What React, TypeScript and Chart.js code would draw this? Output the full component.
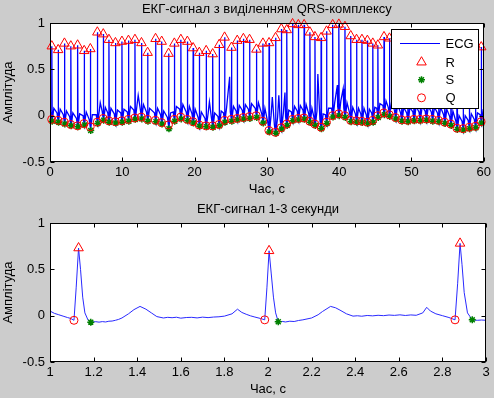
import React, { useEffect, useRef } from "react";
import { Chart, registerables } from "chart.js";

Chart.register(...registerables);

const FONT = "'Liberation Sans', Arial, Helvetica, sans-serif";

// ---------- upper plot: 60 s record, one entry per detected beat ----------
const beatTimes = [
  0.25, 1.13, 2.0, 2.88, 3.82, 4.73, 5.58, 6.55, 7.37, 8.15,
  9.05, 9.95, 10.85, 11.75, 12.65, 13.5, 14.6, 15.45, 16.4, 17.2,
  18.1, 19.0, 19.8, 20.65, 21.6, 22.5, 23.4, 24.15, 25.1, 25.9,
  26.75, 27.6, 28.55, 29.45, 30.3, 31.2, 32.0, 32.75, 33.55, 34.35,
  35.15, 35.95, 36.65, 37.5, 38.25, 39.1, 39.95, 40.8, 41.6, 42.4,
  43.15, 43.9, 44.65, 45.35, 46.2, 46.95, 47.8, 48.65, 49.5, 50.35,
  51.2, 52.05, 52.9, 53.75, 54.6, 55.45, 56.3, 57.15, 58.0, 58.85, 59.65,
];
const rValues = [
  0.75, 0.71, 0.78, 0.75, 0.76, 0.7, 0.72, 0.9, 0.88, 0.82,
  0.785, 0.8, 0.81, 0.82, 0.785, 0.68, 0.83, 0.8, 0.67, 0.78,
  0.82, 0.8, 0.73, 0.68, 0.7, 0.665, 0.765, 0.845, 0.735, 0.81,
  0.83, 0.82, 0.715, 0.78, 0.785, 0.84, 0.935, 0.925, 0.99, 0.98,
  0.98, 0.9, 0.85, 0.84, 0.91, 0.98, 0.985, 0.96, 0.86, 0.82,
  0.82, 0.81, 0.78, 0.76, 0.85, 0.835, 0.86, 0.84, 0.82, 0.8,
  0.81, 0.79, 0.8, 0.78, 0.77, 0.76, 0.78, 0.77, 0.75, 0.76, 0.74,
];
const qValues = [
  -0.04, -0.05, -0.07, -0.095, -0.11, -0.085, -0.12, -0.07, -0.03, -0.055,
  -0.065, -0.055, -0.04, -0.025, -0.015, -0.04, -0.05, -0.075, -0.1, -0.04,
  -0.015, -0.04, -0.065, -0.1, -0.11, -0.11, -0.095, -0.05, -0.04, -0.03,
  -0.02, -0.01, 0.0, -0.06, -0.16, -0.18, -0.13, -0.09, -0.04, -0.03,
  -0.025, -0.06, -0.09, -0.125, -0.07, 0.0, 0.02, 0.0, -0.05, -0.055,
  -0.06, -0.07, -0.05, 0.0, 0.03, 0.01, -0.02, -0.045, -0.05, -0.04,
  -0.04, -0.035, -0.04, -0.05, -0.07, -0.09, -0.135, -0.14, -0.125, -0.115, -0.065,
];
const sValues = [
  -0.06, -0.07, -0.09, -0.11, -0.12, -0.1, -0.16, -0.085, -0.05, -0.07,
  -0.08, -0.07, -0.06, -0.04, -0.035, -0.06, -0.065, -0.09, -0.14, -0.06,
  -0.035, -0.055, -0.08, -0.115, -0.12, -0.125, -0.11, -0.07, -0.06, -0.045,
  -0.035, -0.03, -0.02, -0.08, -0.175, -0.19, -0.145, -0.105, -0.055, -0.045,
  -0.04, -0.075, -0.105, -0.14, -0.085, -0.015, 0.0, -0.02, -0.065, -0.07,
  -0.075, -0.085, -0.07, -0.02, 0.01, -0.01, -0.035, -0.06, -0.065, -0.055,
  -0.055, -0.05, -0.06, -0.065, -0.085, -0.105, -0.15, -0.155, -0.14, -0.13, -0.08,
];
const tWaveValues = [
  0.08, 0.07, 0.05, 0.03, 0.02, 0.04, 0.01, 0.06, 0.09, 0.08,
  0.06, 0.07, 0.1, 0.11, 0.12, 0.08, 0.08, 0.05, 0.03, 0.1,
  0.12, 0.1, 0.07, 0.04, 0.03, 0.03, 0.05, 0.09, 0.1, 0.11,
  0.12, 0.13, 0.14, 0.08, 0.0, -0.02, 0.03, 0.06, 0.1, 0.11,
  0.12, 0.08, 0.05, 0.02, 0.08, 0.14, 0.16, 0.14, 0.09, 0.08,
  0.08, 0.07, 0.09, 0.13, 0.16, 0.14, 0.12, 0.09, 0.09, 0.1,
  0.1, 0.1, 0.09, 0.09, 0.07, 0.05, 0.0, 0.0, 0.02, 0.03, 0.07,
];
const pWaveValues = [
  0.04, 0.03, 0.01, -0.01, -0.03, 0.0, -0.04, 0.01, 0.05, 0.03,
  0.02, 0.03, 0.04, 0.06, 0.07, 0.04, 0.03, 0.01, -0.02, 0.04,
  0.07, 0.04, 0.02, -0.02, -0.03, -0.03, -0.01, 0.03, 0.04, 0.05,
  0.06, 0.07, 0.08, 0.02, -0.08, -0.1, -0.05, -0.01, 0.04, 0.05,
  0.06, 0.02, -0.01, -0.05, 0.01, 0.08, 0.1, 0.08, 0.03, 0.02,
  0.02, 0.01, 0.03, 0.08, 0.11, 0.09, 0.06, 0.03, 0.03, 0.04,
  0.04, 0.05, 0.04, 0.03, 0.01, -0.01, -0.06, -0.06, -0.05, -0.04, 0.01,
];
// isolated samples of the record (start, end, visible noise spikes): [time, value]
const extraSamples: [number, number][] = [
  [0, 0.02], [6.95, 0.14], [12.2, 0.22], [22.05, 0.15], [24.85, 0.42],
  [30.75, 0.2], [31.65, 0.22], [32.5, 0.25], [37.05, 0.45], [39.75, 0.33],
  [40.55, 0.29], [60, -0.04],
];
// beat shape (seconds relative to R)
const pOffset = -0.16;
const qOffset = -0.02;
const sOffset = 0.055;
const tOffset = 0.28;

// ---------- lower plot: 1-3 s ----------
const zoomEcg: [number, number][] = [
  [1.0, 0.05], [1.02, 0.025], [1.04, 0.01], [1.06, -0.005], [1.08, -0.02], [1.095, -0.03],
  [1.11, -0.05], [1.12, 0.3], [1.131, 0.73], [1.14, 0.5], [1.15, 0.2], [1.16, 0.03],
  [1.175, -0.05], [1.187, -0.07], [1.21, -0.065], [1.225, -0.07], [1.24, -0.064], [1.255, -0.068],
  [1.27, -0.06], [1.285, -0.058], [1.3, -0.05], [1.315, -0.04],
  [1.33, -0.025], [1.36, 0.02], [1.385, 0.065], [1.413, 0.1], [1.44, 0.07], [1.465, 0.03],
  [1.49, -0.01], [1.52, -0.025], [1.54, -0.018], [1.56, -0.022], [1.58, -0.017], [1.6, -0.027],
  [1.625, -0.02], [1.65, -0.018], [1.675, -0.024], [1.7, -0.016], [1.725, -0.021],
  [1.75, -0.015], [1.775, -0.012], [1.8, -0.005], [1.835, 0.02], [1.86, 0.07], [1.88, 0.035], [1.9, 0.015],
  [1.92, -0.002], [1.94, -0.015], [1.965, -0.03], [1.985, -0.045], [1.995, 0.3], [2.005, 0.7], [2.015, 0.45],
  [2.025, 0.2], [2.035, 0.03], [2.047, -0.065], [2.065, -0.062], [2.08, -0.068], [2.1, -0.06],
  [2.12, -0.063], [2.14, -0.052], [2.16, -0.045],
  [2.2, -0.025], [2.23, 0.01], [2.25, 0.045], [2.287, 0.1], [2.31, 0.085], [2.33, 0.06],
  [2.36, 0.02], [2.39, -0.005], [2.41, -0.001], [2.43, -0.006], [2.455, 0.002], [2.48, -0.002],
  [2.505, 0.004], [2.53, 0.0], [2.555, 0.007], [2.58, 0.003], [2.605, 0.009],
  [2.63, 0.002], [2.655, 0.008], [2.68, 0.004], [2.71, 0.03], [2.728, 0.09], [2.745, 0.05], [2.77, 0.02],
  [2.8, 0.0], [2.83, -0.02], [2.858, -0.045], [2.87, 0.35], [2.881, 0.78], [2.89, 0.55],
  [2.9, 0.25], [2.915, 0.03], [2.937, -0.045], [2.96, -0.05], [2.98, -0.047], [3.0, -0.05],
];
const zoomR: [number, number][] = [[1.131, 0.73], [2.005, 0.7], [2.881, 0.78]];
const zoomQ: [number, number][] = [[1.11, -0.05], [1.985, -0.045], [2.858, -0.045]];
const zoomS: [number, number][] = [[1.187, -0.07], [2.047, -0.065], [2.937, -0.045]];

// ---------- ticks ----------
const topXTicks = [0, 10, 20, 30, 40, 50, 60];
const bottomXTicks = [1, 1.2, 1.4, 1.6, 1.8, 2, 2.2, 2.4, 2.6, 2.8, 3];
const yTicks = [-0.5, 0, 0.5, 1];

const topTitle = "ЕКГ-сигнал з виділенням QRS-комплексу";
const bottomTitle = "ЕКГ-сигнал 1-3 секунди";
const xLabel = "Час, с";
const yLabel = "Амплітуда";
const legendItems = ["ECG", "R", "S", "Q"];

const CANVAS_H = 200;
const AREA_BOTTOM = 162;

const pts = (a: [number, number][]) => a.map(([x, y]) => ({ x, y }));

function drawMarker(ctx: CanvasRenderingContext2D, style: string, x: number, y: number, r: number, color: string, lw: number) {
  ctx.save();
  ctx.strokeStyle = color;
  ctx.lineWidth = lw;
  ctx.beginPath();
  if (style === "triangle") {
    for (let k = 0; k < 3; k++) {
      const a = (k * 2 * Math.PI) / 3;
      const px = x + Math.sin(a) * r;
      const py = y - Math.cos(a) * r;
      if (k === 0) ctx.moveTo(px, py);
      else ctx.lineTo(px, py);
    }
    ctx.closePath();
  } else if (style === "circle") {
    ctx.arc(x, y, r, 0, Math.PI * 2);
  } else {
    for (let k = 0; k < 4; k++) {
      const a = (k * Math.PI) / 4;
      ctx.moveTo(x - Math.cos(a) * r, y - Math.sin(a) * r);
      ctx.lineTo(x + Math.cos(a) * r, y + Math.sin(a) * r);
    }
  }
  ctx.stroke();
  ctx.restore();
}

const matlabAxes = {
  id: "matlabAxes",
  beforeDraw(chart: any) {
    const { ctx, chartArea: a } = chart;
    ctx.save();
    ctx.fillStyle = "#ffffff";
    ctx.fillRect(a.left, a.top, a.right - a.left, a.bottom - a.top);
    ctx.restore();
  },
  afterDatasetsDraw(chart: any) {
    const { ctx, chartArea: a, scales } = chart;
    const L = Math.round(a.left) + 0.5;
    const R = Math.round(a.right) - 0.5;
    const T = Math.round(a.top) + 0.5;
    const B = Math.round(a.bottom) - 0.5;
    ctx.save();
    ctx.strokeStyle = "#000";
    ctx.lineWidth = 1;
    ctx.strokeRect(L, T, R - L, B - T);
    ctx.beginPath();
    for (const t of scales.x.ticks) {
      const px = Math.round(scales.x.getPixelForValue(t.value)) + 0.5;
      ctx.moveTo(px, B);
      ctx.lineTo(px, B - 4);
      ctx.moveTo(px, T);
      ctx.lineTo(px, T + 4);
    }
    for (const t of scales.y.ticks) {
      const py = Math.round(scales.y.getPixelForValue(t.value)) + 0.5;
      ctx.moveTo(L, py);
      ctx.lineTo(L + 4, py);
      ctx.moveTo(R, py);
      ctx.lineTo(R - 4, py);
    }
    ctx.stroke();
    ctx.restore();
  },
};

const legendPlugin = {
  id: "matlabLegend",
  afterDraw(chart: any) {
    const { ctx, chartArea: a } = chart;
    const w = 87;
    const h = 79;
    const x0 = Math.round(a.right - 6 - w) + 0.5;
    const y0 = Math.round(a.top + 6) + 0.5;
    ctx.save();
    ctx.fillStyle = "#fff";
    ctx.fillRect(x0, y0, w, h);
    ctx.strokeStyle = "#000";
    ctx.lineWidth = 1;
    ctx.strokeRect(x0, y0, w, h);
    const rows = [13.7, 32.7, 50.3, 68.3];
    ctx.font = `13px ${FONT}`;
    ctx.fillStyle = "#000";
    ctx.textBaseline = "middle";
    ctx.textAlign = "left";
    legendItems.forEach((label, i) => {
      const y = y0 + rows[i];
      const mx = x0 + 30;
      if (i === 0) {
        ctx.strokeStyle = "#0000ff";
        ctx.beginPath();
        ctx.moveTo(x0 + 8.5, Math.round(y) + 0.5);
        ctx.lineTo(x0 + 48.5, Math.round(y) + 0.5);
        ctx.stroke();
      } else if (label === "R") {
        drawMarker(ctx, "triangle", mx, y, 5.5, "#ff0000", 1);
      } else if (label === "S") {
        drawMarker(ctx, "star", mx, y, 3.5, "#008000", 1.5);
      } else {
        drawMarker(ctx, "circle", mx, y, 4, "#ff0000", 1);
      }
      ctx.fillStyle = "#000";
      ctx.fillText(label, x0 + 54, y + 1);
    });
    ctx.restore();
  },
};

function makeConfig(opts: {
  title: string;
  xMin: number;
  xMax: number;
  xTicks: number[];
  ecg: { x: number; y: number }[];
  r: { x: number; y: number }[];
  s: { x: number; y: number }[];
  q: { x: number; y: number }[];
  ecgColor: string;
  ecgWidth: number;
  legend: boolean;
}): any {
  const font = { family: FONT, size: 13, weight: "normal" as const };
  return {
    type: "scatter",
    data: {
      datasets: [
        {
          label: "Q",
          data: opts.q,
          pointStyle: "circle",
          pointRadius: 4,
          pointBorderColor: "#ff0000",
          pointBackgroundColor: "rgba(0,0,0,0)",
          pointBorderWidth: 1,
          showLine: false,
          clip: false,
        },
        {
          label: "S",
          data: opts.s,
          pointStyle: "star",
          pointRadius: 3.5,
          pointBorderColor: "#008000",
          pointBackgroundColor: "rgba(0,0,0,0)",
          pointBorderWidth: 1.5,
          showLine: false,
          clip: false,
        },
        {
          label: "R",
          data: opts.r,
          pointStyle: "triangle",
          pointRadius: 5.5,
          pointBorderColor: "#ff0000",
          pointBackgroundColor: "rgba(0,0,0,0)",
          pointBorderWidth: 1,
          showLine: false,
          clip: false,
        },
        {
          label: "ECG",
          data: opts.ecg,
          showLine: true,
          pointRadius: 0,
          borderColor: opts.ecgColor,
          borderWidth: opts.ecgWidth,
          tension: 0,
        },
      ],
    },
    options: {
      animation: false,
      responsive: false,
      devicePixelRatio: 1,
      events: [],
      layout: { padding: { left: 0, right: 8, top: 0, bottom: 0 } },
      plugins: {
        legend: { display: false },
        tooltip: { enabled: false },
        title: {
          display: true,
          text: opts.title,
          color: "#000",
          font,
          fullSize: false,
          padding: { top: 1.5, bottom: 5.9 },
        },
      },
      scales: {
        x: {
          type: "linear",
          min: opts.xMin,
          max: opts.xMax,
          afterBuildTicks: (s: any) => {
            s.ticks = opts.xTicks.map((v) => ({ value: v }));
          },
          afterFit: (s: any) => {
            s.height = CANVAS_H - AREA_BOTTOM;
          },
          grid: { display: false, drawTicks: false },
          border: { display: false },
          ticks: {
            color: "#000",
            font,
            padding: 3,
            autoSkip: false,
            maxRotation: 0,
            callback: (v: number) => String(v),
          },
          title: {
            display: true,
            text: xLabel,
            color: "#000",
            font,
            padding: { top: 0, bottom: 3 },
          },
        },
        y: {
          type: "linear",
          min: -0.5,
          max: 1,
          afterBuildTicks: (s: any) => {
            s.ticks = yTicks.map((v) => ({ value: v }));
          },
          afterFit: (s: any) => {
            s.width = 50;
          },
          grid: { display: false, drawTicks: false },
          border: { display: false },
          ticks: {
            color: "#000",
            font,
            padding: 5,
            autoSkip: false,
            callback: (v: number) => String(v),
          },
          title: {
            display: true,
            text: yLabel,
            color: "#000",
            font,
            padding: { top: 1, bottom: 0 },
          },
        },
      },
    },
    plugins: opts.legend ? [matlabAxes, legendPlugin] : [matlabAxes],
  };
}

function buildTopEcg() {
  const out: { x: number; y: number }[] = [];
  beatTimes.forEach((t, i) => {
    out.push({ x: t + pOffset, y: pWaveValues[i] });
    out.push({ x: t + qOffset, y: qValues[i] });
    out.push({ x: t, y: rValues[i] });
    out.push({ x: t + sOffset, y: sValues[i] });
    out.push({ x: t + tOffset, y: tWaveValues[i] });
  });
  extraSamples.forEach(([x, y]) => out.push({ x, y }));
  out.sort((a, b) => a.x - b.x);
  return out;
}

export default function App() {
  const topRef = useRef<HTMLCanvasElement>(null);
  const botRef = useRef<HTMLCanvasElement>(null);

  useEffect(() => {
    if (!topRef.current || !botRef.current) return;
    const top = new Chart(
      topRef.current,
      makeConfig({
        title: topTitle,
        xMin: 0,
        xMax: 60,
        xTicks: topXTicks,
        ecg: buildTopEcg(),
        r: beatTimes.map((t, i) => ({ x: t, y: rValues[i] })),
        s: beatTimes.map((t, i) => ({ x: t + sOffset, y: sValues[i] })),
        q: beatTimes.map((t, i) => ({ x: t + qOffset, y: qValues[i] })),
        ecgColor: "#0000ff",
        ecgWidth: 1.3,
        legend: true,
      })
    );
    const bottom = new Chart(
      botRef.current,
      makeConfig({
        title: bottomTitle,
        xMin: 1,
        xMax: 3,
        xTicks: bottomXTicks,
        ecg: pts(zoomEcg),
        r: pts(zoomR),
        s: pts(zoomS),
        q: pts(zoomQ),
        ecgColor: "#2a2aff",
        ecgWidth: 1,
        legend: false,
      })
    );
    return () => {
      top.destroy();
      bottom.destroy();
    };
  }, []);

  return (
    <div
      style={{
        position: "fixed",
        left: 0,
        top: 0,
        width: 494,
        height: 398,
        background: "#cccccc",
        overflow: "hidden",
      }}
    >
      <canvas
        ref={topRef}
        width={494}
        height={CANVAS_H}
        style={{ position: "absolute", left: 0, top: 0, width: 494, height: CANVAS_H }}
      />
      <canvas
        ref={botRef}
        width={494}
        height={CANVAS_H}
        style={{ position: "absolute", left: 0, top: 200, width: 494, height: CANVAS_H }}
      />
    </div>
  );
}
